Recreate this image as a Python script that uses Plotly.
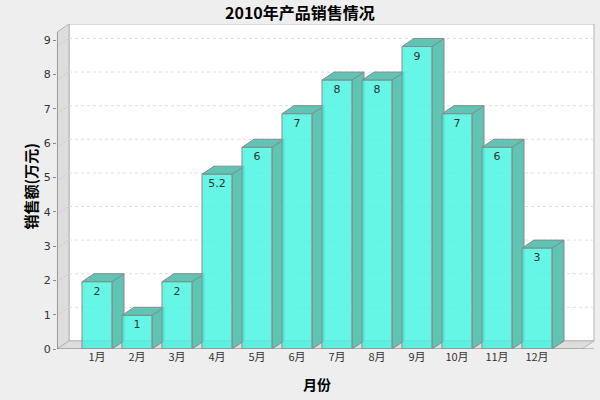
import plotly.graph_objects as go

# data
months = ["1月", "2月", "3月", "4月", "5月", "6月", "7月", "8月", "9月", "10月", "11月", "12月"]
sales = [2, 1, 2, 5.2, 6, 7, 8, 8, 9, 7, 6, 3]
y_ticks = list(range(10))

# fake 3D geometry (in axis units)
BAR_W = 0.75
DX = 0.3      # depth offset along x
DY = 0.24     # depth offset along y (data axis)
X_MIN, X_MAX = -1.0, 12.45
Y_TOP = 9.67

FRONT = "rgba(64,244,224,0.8)"
SIDE = "rgb(95,196,180)"
EDGE = "#8A8A8A"


def poly(pts, fill, line=EDGE, width=1, layer="below"):
    path = "M " + " L ".join(f"{x},{y}" for x, y in pts) + " Z"
    return dict(type="path", path=path, xref="x", yref="y2",
                fillcolor=fill, line=dict(color=line, width=width), layer=layer)


shapes = []
# back wall
shapes.append(poly([(X_MIN + DX, DY), (X_MAX - 0.025, DY), (X_MAX - 0.025, Y_TOP),
                    (X_MIN + DX, Y_TOP)], "white", line="#B4B4B4"))
# left wall
shapes.append(poly([(X_MIN, 0), (X_MIN + DX, DY), (X_MIN + DX, Y_TOP),
                    (X_MIN, Y_TOP - DY)], "#DDDDDD", line="#B4B4B4"))
# floor
shapes.append(poly([(X_MIN, 0), (X_MAX - DX - 0.025, 0), (X_MAX - 0.025, DY),
                    (X_MIN + DX, DY)], "#DDDDDD", line="#B4B4B4"))

# grid lines on back wall and left wall
for v in y_ticks[1:]:
    shapes.append(dict(type="line", xref="x", yref="y2", x0=X_MIN + DX, x1=X_MAX - 0.025,
                       y0=v + DY, y1=v + DY, layer="below",
                       line=dict(color="#E0E0E0", width=1, dash="3px,3px")))
    shapes.append(dict(type="line", xref="x", yref="y2", x0=X_MIN, x1=X_MIN + DX,
                       y0=v, y1=v + DY, layer="below",
                       line=dict(color="#C8C8C8", width=1, dash="2px,2px")))

# bar sides and tops
for i, v in enumerate(sales):
    l, r = i - BAR_W / 2, i + BAR_W / 2
    shapes.append(poly([(r, 0), (r + DX, DY), (r + DX, v + DY), (r, v)], SIDE))
    shapes.append(poly([(l, v), (l + DX, v + DY), (r + DX, v + DY), (r, v)], SIDE))

# front axis lines
shapes.append(dict(type="line", xref="x", yref="y2", x0=X_MIN, x1=X_MAX - 0.025, y0=0, y1=0,
                   line=dict(color="#8A8A8A", width=1), layer="above"))
shapes.append(dict(type="line", xref="x", yref="y2", x0=X_MIN, x1=X_MIN, y0=0, y1=Y_TOP - DY,
                   line=dict(color="#8A8A8A", width=1.5), layer="above"))

fig = go.Figure()
# invisible trace so the tick-label axis is drawn
fig.add_trace(go.Scatter(x=[X_MIN] * len(y_ticks), y=y_ticks, mode="markers",
                         marker=dict(opacity=0), hoverinfo="skip"))
fig.add_trace(go.Bar(
    x=list(range(len(months))), y=sales, yaxis="y2", width=BAR_W,
    marker=dict(color=FRONT, line=dict(color=EDGE, width=1)),
    text=[f"{v:g}" for v in sales], textposition="inside", insidetextanchor="end",
    textangle=0, constraintext="none",
    textfont=dict(size=11, color="#333333", family="DejaVu Sans"),
    hoverinfo="skip",
))

fig.update_layout(
    width=600, height=400,
    paper_bgcolor="#EEEEEE", plot_bgcolor="rgba(0,0,0,0)",
    margin=dict(l=57, r=5, t=24, b=51),
    showlegend=False,
    font=dict(family="DejaVu Sans", size=11, color="#333333"),
    xaxis=dict(range=[X_MIN, X_MAX], tickvals=list(range(len(months))), ticktext=months,
               showgrid=False, zeroline=False, showline=False, ticks="",
               tickfont=dict(size=11, color="#333333", family="Noto Sans CJK SC")),
    yaxis=dict(range=[0, 9.47], tickvals=y_ticks, showgrid=False, zeroline=False,
               showline=False, ticks="outside", ticklen=3, tickcolor="#8A8A8A",
               tickfont=dict(size=11, color="#333333")),
    yaxis2=dict(range=[0, Y_TOP], overlaying="y", visible=False),
    shapes=shapes,
    annotations=[
        dict(text="<b>2010年产品销售情况</b>", x=0.5, y=1, xref="paper", yref="paper",
             xanchor="center", yanchor="middle", yshift=12, xshift=-26, showarrow=False,
             font=dict(size=16, color="#000000", family="Noto Sans CJK SC")),
        dict(text="<b>月份</b>", x=5.5, y=0, xref="x", yref="paper", xanchor="center",
             yanchor="middle", yshift=-35, showarrow=False,
             font=dict(size=14, color="#000000", family="Noto Sans CJK SC")),
        dict(text="<b>销售额(万元)</b>", x=0, y=0.5, xref="paper", yref="paper",
             xanchor="center", yanchor="middle", xshift=-27, textangle=-90, showarrow=False,
             font=dict(size=15, color="#000000", family="Noto Sans CJK SC")),
    ],
)

fig.write_html("out.html", config={"displayModeBar": False},
               post_script="document.body.style.margin='0';")
